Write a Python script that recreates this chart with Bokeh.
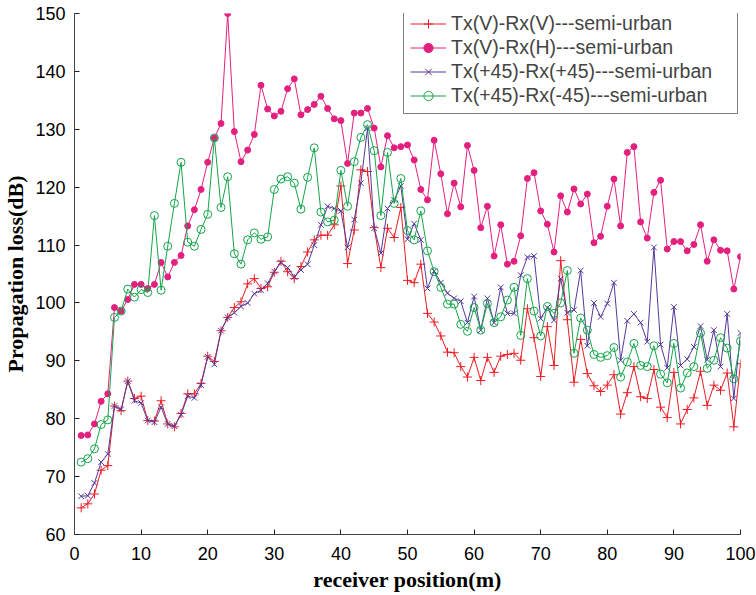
from bokeh.plotting import figure
from bokeh.models import Range1d, SingleIntervalTicker
from bokeh.embed import file_html
from bokeh.resources import INLINE

# receiver position (m)
position = list(range(1, 101))

# Tx(V)-Rx(V)---semi-urban
loss_vv = [64.6, 65.3, 67.0, 71.1, 71.9, 82.2, 81.4, 86.5, 83.5, 83.9,
           79.7, 79.6, 83.1, 79.1, 78.6, 80.9, 84.3, 84.3, 86.1, 90.8,
           89.9, 95.2, 97.5, 99.2, 100.2, 103.3, 104.2, 102.5, 102.8, 105.3,
           107.2, 105.4, 104.2, 106.3, 108.8, 110.9, 111.7, 111.7, 113.5, 120.2,
           106.8, 112.6, 123.0, 122.7, 113.0, 106.1, 112.9, 111.3, 116.5, 103.9,
           103.5, 106.7, 98.2, 96.7, 94.3, 91.5, 91.4, 89.0, 87.2, 90.6,
           86.6, 90.6, 88.0, 90.8, 91.1, 91.3, 90.1, 99.0, 94.0, 87.3,
           95.9, 89.2, 107.3, 97.1, 86.3, 93.7, 87.8, 85.7, 84.7, 85.8,
           87.6, 80.8, 84.5, 89.0, 83.8, 83.5, 88.5, 82.0, 80.2, 88.0,
           79.1, 81.6, 83.6, 88.2, 82.3, 85.8, 84.9, 87.9, 78.6, 89.5]

# Tx(V)-Rx(H)---semi-urban
loss_vh = [77.1, 77.2, 79.1, 83.0, 84.3, 99.2, 98.6, 100.6, 103.2, 103.2,
           102.5, 103.2, 107.0, 104.5, 107.0, 108.2, 113.3, 116.1, 119.6, 124.3,
           128.5, 131.0, 150.0, 129.6, 124.4, 126.4, 129.1, 137.6, 133.5, 132.3,
           133.1, 137.0, 138.7, 132.5, 133.4, 134.3, 135.7, 133.6, 131.8, 131.5,
           124.1, 132.8, 132.8, 133.6, 130.2, 123.5, 128.9, 126.8, 127.0, 127.3,
           124.7, 119.6, 117.8, 128.1, 122.3, 115.4, 120.7, 116.6, 127.2, 122.9,
           113.0, 116.7, 108.1, 113.5, 106.7, 107.2, 111.6, 121.5, 122.5, 115.9,
           113.6, 108.8, 118.5, 115.7, 119.7, 117.1, 118.8, 110.4, 111.5, 116.7,
           121.4, 113.3, 126.0, 127.0, 114.0, 111.2, 119.1, 121.2, 109.3, 110.6,
           110.6, 109.0, 110.1, 113.5, 107.2, 110.9, 109.1, 109.0, 102.4, 108.0]

# Tx(+45)-Rx(+45)---semi-urban
loss_pp = [66.6, 66.7, 68.9, 72.5, 73.9, 82.2, 81.6, 86.5, 83.1, 82.7,
           79.7, 79.4, 82.0, 79.1, 78.7, 80.7, 83.9, 83.6, 85.8, 90.7,
           89.4, 95.2, 97.5, 98.3, 99.4, 100.0, 101.6, 102.2, 103.4, 105.4,
           107.0, 106.1, 104.5, 105.7, 106.7, 110.0, 113.5, 116.7, 116.3, 115.9,
           109.6, 114.4, 120.7, 130.2, 112.9, 108.6, 116.3, 117.8, 120.2, 111.0,
           113.7, 110.9, 102.5, 105.5, 103.5, 101.7, 100.8, 100.3, 96.6, 101.1,
           95.3, 100.8, 96.6, 102.7, 98.2, 98.2, 104.8, 107.9, 108.1, 97.3,
           99.2, 97.0, 104.2, 98.3, 98.8, 105.6, 92.6, 100.0, 97.6, 99.9,
           103.5, 90.1, 96.9, 98.1, 96.6, 93.3, 109.6, 92.8, 88.8, 99.3,
           89.2, 90.3, 92.4, 96.0, 90.2, 95.3, 89.0, 98.1, 83.5, 94.8]

# Tx(+45)-Rx(-45)---semi-urban
loss_pm = [72.5, 73.1, 74.8, 79.0, 79.8, 97.5, 98.6, 102.4, 101.0, 102.3,
           101.8, 115.1, 102.2, 109.8, 117.2, 124.3, 110.5, 109.8, 112.7, 115.3,
           128.5, 116.5, 121.8, 108.5, 106.7, 110.9, 112.1, 111.0, 111.4, 119.6,
           121.4, 121.8, 120.7, 116.2, 121.7, 126.8, 115.7, 114.0, 114.3, 122.9,
           116.7, 124.4, 128.6, 130.8, 126.3, 115.1, 126.0, 117.2, 121.5, 112.5,
           110.9, 115.9, 109.0, 105.4, 102.7, 99.8, 99.8, 96.3, 95.1, 99.2,
           95.3, 99.9, 96.6, 97.6, 100.5, 102.7, 94.4, 104.2, 98.6, 94.3,
           99.4, 98.2, 100.0, 105.6, 91.3, 97.4, 95.3, 91.1, 90.6, 90.9,
           92.3, 87.2, 89.8, 93.0, 89.2, 89.0, 92.6, 87.7, 86.2, 93.0,
           85.3, 87.9, 89.0, 94.8, 88.7, 90.1, 94.0, 92.2, 86.9, 93.4]

labels = ["Tx(V)-Rx(V)---semi-urban", "Tx(V)-Rx(H)---semi-urban",
          "Tx(+45)-Rx(+45)---semi-urban", "Tx(+45)-Rx(-45)---semi-urban"]

p = figure(width=756, height=595, output_backend="svg", toolbar_location=None,
           x_range=Range1d(0, 100), y_range=Range1d(60, 150),
           min_border_left=73, min_border_right=16, min_border_top=13,
           min_border_bottom=61)
p.xgrid.visible = False
p.ygrid.visible = False
p.outline_line_color = None
p.background_fill_color = "white"
p.border_fill_color = "white"

RED = "#ec1c24"
MAG = "#e4207f"
PUR = "#54399a"
GRN = "#14a54a"

p.line(position, loss_vv, line_color=RED, line_width=1, legend_label=labels[0])
p.scatter(position, loss_vv, marker="cross", size=9, line_color=RED, line_width=1,
          legend_label=labels[0])

p.line(position, loss_vh, line_color=MAG, line_width=1, legend_label=labels[1])
p.scatter(position, loss_vh, marker="circle", size=6, line_color=MAG, fill_color=MAG,
          legend_label=labels[1])

p.line(position, loss_pp, line_color=PUR, line_width=1, legend_label=labels[2])
p.scatter(position, loss_pp, marker="x", size=8, line_color=PUR, line_width=1,
          legend_label=labels[2])

p.line(position, loss_pm, line_color=GRN, line_width=1, legend_label=labels[3])
p.scatter(position, loss_pm, marker="circle", size=8, line_color=GRN, line_width=1,
          fill_alpha=0, legend_label=labels[3])

for ax in (p.xaxis[0], p.yaxis[0]):
    ax.axis_line_color = "#444444"
    ax.major_tick_line_color = "#222222"
    ax.major_tick_in = 5
    ax.major_tick_out = 0
    ax.minor_tick_line_color = None
    ax.major_label_text_font = "Liberation Sans"
    ax.major_label_text_font_size = "18px"
    ax.major_label_text_color = "black"
    ax.axis_label_text_font = "Liberation Serif"
    ax.axis_label_text_font_style = "bold"
    ax.axis_label_text_font_size = "22px"
    ax.axis_label_text_color = "black"

p.xaxis[0].ticker = SingleIntervalTicker(interval=10)
p.yaxis[0].ticker = SingleIntervalTicker(interval=10)
p.xaxis[0].axis_label = "receiver position(m)"
p.yaxis[0].axis_label = "Propagation loss(dB)"
p.xaxis[0].major_label_standoff = 8
p.yaxis[0].major_label_standoff = 5
p.xaxis[0].axis_label_standoff = 4
p.yaxis[0].axis_label_standoff = 4

lg = p.legend[0]
lg.location = (329, 420)
lg.margin = 0
lg.padding = 6
lg.spacing = 1
lg.label_height = 23
lg.glyph_height = 23
lg.glyph_width = 36
lg.label_width = 280
lg.label_standoff = 5
lg.label_text_font = "Liberation Sans"
lg.label_text_font_size = "19.5px"
lg.border_line_color = "black"
lg.border_line_width = 1
lg.background_fill_alpha = 1
lg.background_fill_color = "white"

open("out.html", "w").write(file_html(p, INLINE))
